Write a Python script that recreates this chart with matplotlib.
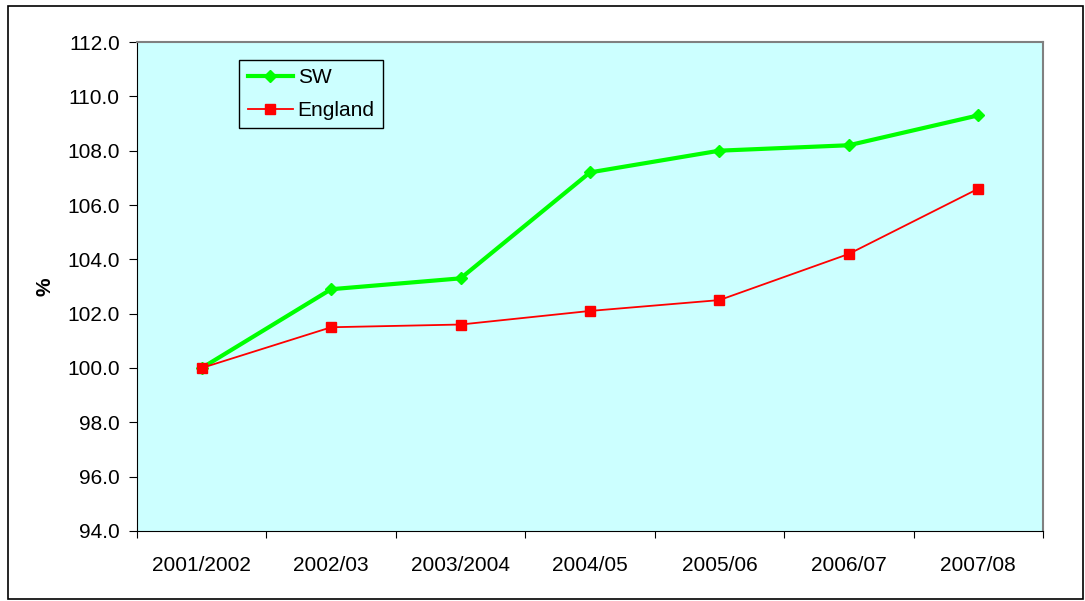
import matplotlib
matplotlib.use("Agg")
from matplotlib import pyplot as plt
from matplotlib.patches import Rectangle

plt.rcParams['font.family'] = ['Liberation Sans', 'DejaVu Sans']

years = ['2001/2002', '2002/03', '2003/2004', '2004/05', '2005/06', '2006/07', '2007/08']
sw = [100.0, 102.9, 103.3, 107.2, 108.0, 108.2, 109.3]
england = [100.0, 101.5, 101.6, 102.1, 102.5, 104.2, 106.6]

fig = plt.figure(figsize=(10.85, 6.01), dpi=100)
ax = fig.add_axes([0.1263, 0.1165, 0.835, 0.8136])
ax.set_facecolor('#CCFFFF')

x = list(range(len(years)))
ax.plot(x, sw, color='#00FF00', lw=3, marker='D', ms=6, label='SW')
ax.plot(x, england, color='#FF0000', lw=1.3, marker='s', ms=6.5, label='England')

ax.set_xlim(-0.5, len(years) - 0.5)
ax.set_ylim(94, 112)
ax.set_yticks([94 + 2 * i for i in range(10)])
ax.set_yticklabels(['%.1f' % (94 + 2 * i) for i in range(10)])
# category boundaries get the ticks, labels sit in between
ax.set_xticks([i + 0.5 for i in range(-1, len(years))], minor=False)
ax.set_xticklabels([''] * (len(years) + 1))
ax.set_xticks(x, minor=True)
ax.set_xticklabels(years, minor=True)
ax.tick_params(axis='x', which='minor', length=0, pad=18, labelsize=15)
ax.tick_params(axis='x', which='major', length=5, direction='out')
ax.tick_params(axis='y', length=5.5, direction='out', labelsize=15, pad=7)
ax.set_ylabel('%', fontsize=15, fontweight='bold', labelpad=9)

for s in ['left', 'bottom']:
    ax.spines[s].set_color('black')
for s in ['top', 'right']:
    ax.spines[s].set_color('#808080')
    ax.spines[s].set_linewidth(1.5)

leg = ax.legend(loc='upper left', bbox_to_anchor=(0.113, 0.963), fontsize=15,
                fancybox=False, framealpha=1, edgecolor='black', facecolor='#CCFFFF',
                handlelength=2.15, handletextpad=0.25, borderpad=0.4, labelspacing=0.65,
                borderaxespad=0)
leg.get_frame().set_linewidth(1)

fig.patches.append(Rectangle((0.0074, 0.0033), 0.991, 0.987, transform=fig.transFigure,
                             fill=False, edgecolor='black', lw=1.2))

fig.savefig('out.png', dpi=100)
